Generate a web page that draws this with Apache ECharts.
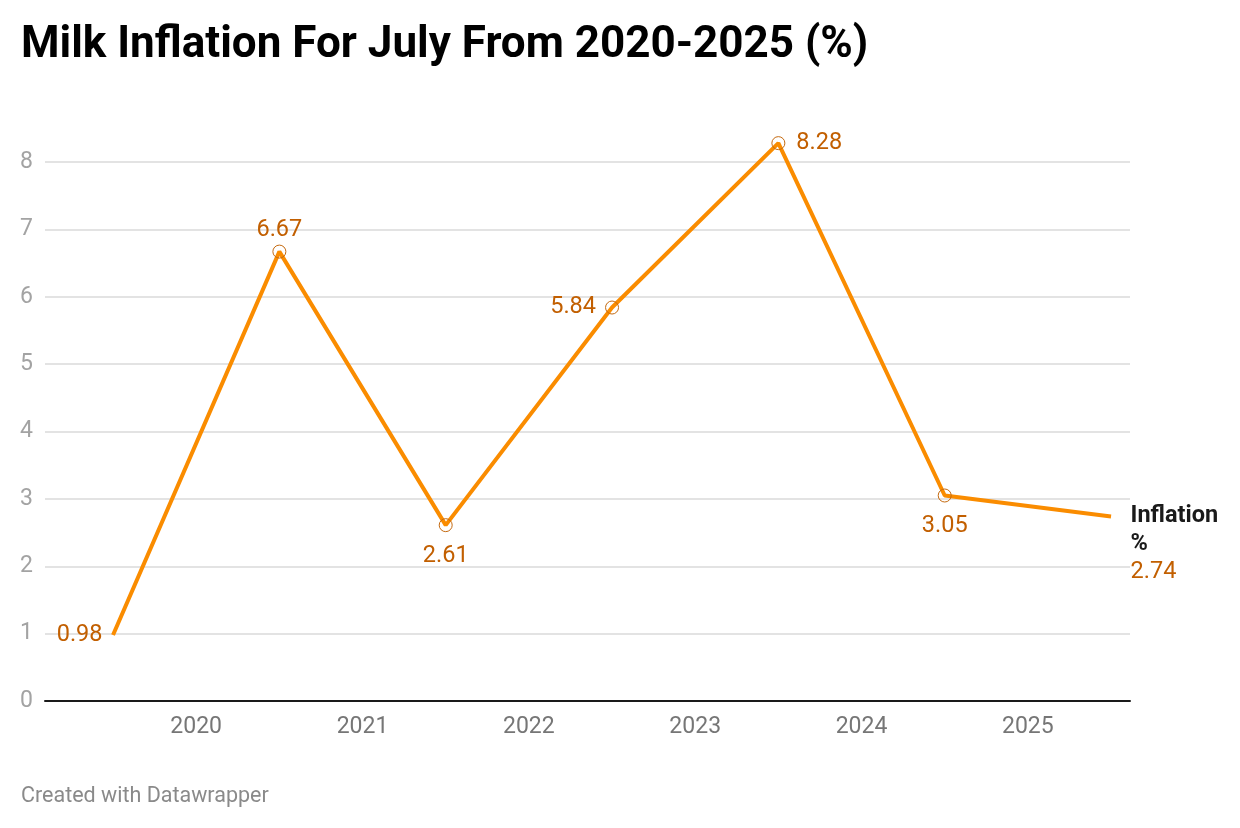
<!DOCTYPE html>
<html>
<head>
<meta charset="utf-8">
<script src="https://cdn.jsdelivr.net/npm/echarts@6/dist/echarts.min.js"></script>
<style>
html,body{margin:0;padding:0;background:#fff;}
#chart{width:1240px;height:828px;}
</style>
</head>
<body>
<div id="chart"></div>
<script>
var yearLabels = ['2020', '2021', '2022', '2023', '2024', '2025'];
var inflation = [0.98, 6.67, 2.61, 5.84, 8.28, 3.05, 2.74];
var yTicks = [0, 1, 2, 3, 4, 5, 6, 7, 8];
var seriesName = 'Inflation %';

var labelPos = ['left', 'top', 'bottom', 'left', 'right', 'bottom', 'right'];
var labelDist = [10, 2, 12, 9, 11, 12, 19];
var labelColor = '#c25f00';
var lineColor = '#fa8c00';

var data = inflation.map(function (v, i) {
  var last = i === inflation.length - 1;
  var first = i === 0;
  var item = {
    value: [i, v],
    label: {
      show: true,
      position: labelPos[i],
      distance: labelDist[i],
      color: labelColor,
      fontSize: 23.5,
      fontFamily: 'Roboto'
    }
  };
  if (first || last) {
    item.symbolSize = 1;
    item.itemStyle = { color: 'rgba(0,0,0,0)', borderColor: 'rgba(0,0,0,0)', borderWidth: 0 };
  }
  if (last) {
    item.label.offset = [0, 28];
    item.label.formatter = function () {
      return '{n|Inflation}\n{n|%}\n{v|' + v + '}';
    };
    item.label.rich = {
      n: { fontWeight: 'bold', color: '#1a1a1a', fontSize: 23.5, fontFamily: 'Roboto', lineHeight: 28 },
      v: { color: labelColor, fontSize: 23.5, fontFamily: 'Roboto', lineHeight: 28 }
    };
  }
  return item;
});

var chart = echarts.init(document.getElementById('chart'));
chart.setOption({
  backgroundColor: '#fff',
  animation: false,
  title: [{
    text: 'Milk Inflation For July From 2020-2025 (%)',
    left: 16, top: 19,
    textStyle: { fontFamily: 'Roboto', fontWeight: 'bold', fontSize: 44, color: '#000' }
  }, {
    text: 'Created with Datawrapper',
    left: 16, top: 781,
    textStyle: { fontFamily: 'Roboto', fontWeight: 'normal', fontSize: 21.5, color: '#8a8a8a' }
  }],
  grid: { left: 45, right: 110, top: 162, bottom: 127, containLabel: false },
  xAxis: {
    type: 'value',
    min: -0.409,
    max: 6.114,
    axisLine: { show: true, onZero: true, lineStyle: { color: '#1a1a1a', width: 2 } },
    axisTick: { show: false },
    splitLine: { show: false },
    axisLabel: {
      customValues: yearLabels.map(function (y, i) { return i + 0.5; }),
      formatter: function (val) { return yearLabels[Math.round(val - 0.5)]; },
      color: '#767676', fontSize: 23, fontFamily: 'Roboto', margin: 15
    }
  },
  yAxis: {
    type: 'value',
    min: yTicks[0],
    max: yTicks[yTicks.length - 1],
    interval: 1,
    axisLine: { show: false },
    axisTick: { show: false },
    splitLine: { lineStyle: { color: '#e3e3e3', width: 2 } },
    axisLabel: { color: '#a3a3a3', fontSize: 23, fontFamily: 'Roboto', margin: 12 }
  },
  series: [{
    name: seriesName,
    type: 'line',
    clip: false,
    data: data,
    symbol: 'circle',
    symbolSize: 13,
    itemStyle: { color: 'rgba(255,255,255,0)', borderColor: '#c56a10', borderWidth: 1 },
    lineStyle: { color: lineColor, width: 4 },
    z: 3
  }]
});
</script>
</body>
</html>
